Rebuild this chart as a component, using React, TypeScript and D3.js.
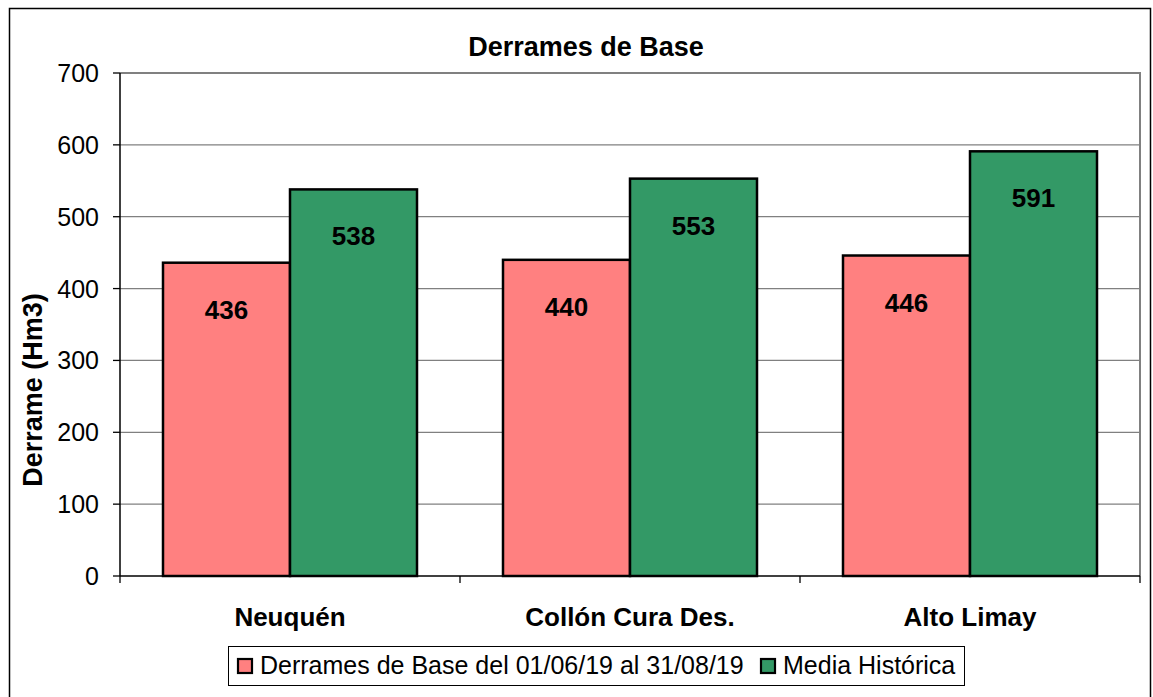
import React, { useEffect, useRef } from "react";
import * as d3 from "d3";

const categories = ["Neuquén", "Collón Cura Des.", "Alto Limay"];
const derramesBase = [436, 440, 446];
const mediaHistorica = [538, 553, 591];
const seriesNames = ["Derrames de Base del 01/06/19 al 31/08/19", "Media Histórica"];
const seriesColors = ["#FF8080", "#339966"];
const yTicks = [0, 100, 200, 300, 400, 500, 600, 700];

const W = 1153;
const H = 697;
const FONT = "'Liberation Sans', Arial, sans-serif";

export default function App() {
  const ref = useRef<SVGSVGElement | null>(null);

  useEffect(() => {
    const svg = d3.select(ref.current);
    svg.selectAll("*").remove();

    const left = 120, right = 1140, top = 73, bottom = 576;

    // outer chart frame
    svg.append("rect")
      .attr("x", 9.5).attr("y", 8.5)
      .attr("width", 1141).attr("height", 700)
      .attr("fill", "#fff").attr("stroke", "#000").attr("stroke-width", 1.5);

    const x = d3.scaleBand<string>().domain(categories).range([left, right]).paddingInner(0).paddingOuter(0);
    const y = d3.scaleLinear().domain([0, 700]).range([bottom, top]);
    const barPad = 43;
    const inner = d3.scaleBand<number>().domain([0, 1])
      .range([barPad, x.bandwidth() - barPad]);

    // gridlines
    svg.append("g").selectAll("line")
      .data(yTicks.filter((t) => t > 0))
      .enter().append("line")
      .attr("x1", left).attr("x2", right)
      .attr("y1", (d) => y(d)).attr("y2", (d) => y(d))
      .attr("stroke", "#808080").attr("stroke-width", 1.3);

    // plot border (right + top)
    svg.append("path")
      .attr("d", `M${left},${top}H${right}V${bottom}`)
      .attr("fill", "none").attr("stroke", "#808080").attr("stroke-width", 2);

    // bars
    const series = [derramesBase, mediaHistorica];
    series.forEach((vals, si) => {
      const g = svg.append("g");
      g.selectAll("rect")
        .data(vals)
        .enter().append("rect")
        .attr("x", (d, i) => (x(categories[i]) as number) + (inner(si) as number))
        .attr("y", (d) => y(d))
        .attr("width", inner.bandwidth())
        .attr("height", (d) => y(0) - y(d))
        .attr("fill", seriesColors[si])
        .attr("stroke", "#000").attr("stroke-width", 2.5);
      g.selectAll("text")
        .data(vals)
        .enter().append("text")
        .attr("x", (d, i) => (x(categories[i]) as number) + (inner(si) as number) + inner.bandwidth() / 2)
        .attr("y", (d) => y(d) + 56)
        .attr("text-anchor", "middle")
        .attr("font-family", FONT).attr("font-weight", "bold").attr("font-size", 26)
        .attr("fill", "#000")
        .text((d) => d);
    });

    // y axis
    const yAxis = svg.append("g");
    yAxis.append("line")
      .attr("x1", left).attr("x2", left).attr("y1", top).attr("y2", bottom)
      .attr("stroke", "#000").attr("stroke-width", 1.5);
    yAxis.selectAll(".tick")
      .data(yTicks).enter().append("line")
      .attr("x1", left - 7).attr("x2", left)
      .attr("y1", (d) => y(d)).attr("y2", (d) => y(d))
      .attr("stroke", "#000").attr("stroke-width", 1.3);
    yAxis.selectAll("text")
      .data(yTicks).enter().append("text")
      .attr("x", 99).attr("y", (d) => y(d) + 9)
      .attr("text-anchor", "end")
      .attr("font-family", FONT).attr("font-size", 25)
      .text((d) => d);

    // x axis
    const xAxis = svg.append("g");
    xAxis.append("line")
      .attr("x1", left).attr("x2", right).attr("y1", bottom).attr("y2", bottom)
      .attr("stroke", "#000").attr("stroke-width", 1.5);
    const bounds = categories.map((c) => x(c) as number).concat([right]);
    xAxis.selectAll(".tick")
      .data(bounds).enter().append("line")
      .attr("x1", (d) => d).attr("x2", (d) => d)
      .attr("y1", bottom).attr("y2", bottom + 7)
      .attr("stroke", "#000").attr("stroke-width", 1.3);
    xAxis.selectAll("text")
      .data(categories).enter().append("text")
      .attr("x", (d) => (x(d) as number) + x.bandwidth() / 2)
      .attr("y", 626)
      .attr("text-anchor", "middle")
      .attr("font-family", FONT).attr("font-weight", "bold").attr("font-size", 26)
      .text((d) => d);

    // title
    svg.append("text")
      .attr("x", 586).attr("y", 56)
      .attr("text-anchor", "middle")
      .attr("font-family", FONT).attr("font-weight", "bold").attr("font-size", 27)
      .text("Derrames de Base");

    // y label
    svg.append("text")
      .attr("transform", `translate(42, 390) rotate(-90)`)
      .attr("text-anchor", "middle")
      .attr("font-family", FONT).attr("font-weight", "bold").attr("font-size", 27)
      .text("Derrame (Hm3)");

    // legend
    const lg = svg.append("g");
    lg.append("rect")
      .attr("x", 228.5).attr("y", 646.5).attr("width", 736).attr("height", 39)
      .attr("fill", "#fff").attr("stroke", "#000").attr("stroke-width", 1);
    const itemX = [238, 761];
    seriesNames.forEach((name, i) => {
      lg.append("rect")
        .attr("x", itemX[i]).attr("y", 659).attr("width", 14).attr("height", 14)
        .attr("fill", seriesColors[i]).attr("stroke", "#000").attr("stroke-width", 2.2);
      lg.append("text")
        .attr("x", itemX[i] + 22).attr("y", 674)
        .attr("font-family", FONT).attr("font-size", 25)
        .text(name);
    });
  }, []);

  return (
    <svg ref={ref} width={W} height={H} style={{ position: "absolute", left: 0, top: 0 }}></svg>
  );
}
